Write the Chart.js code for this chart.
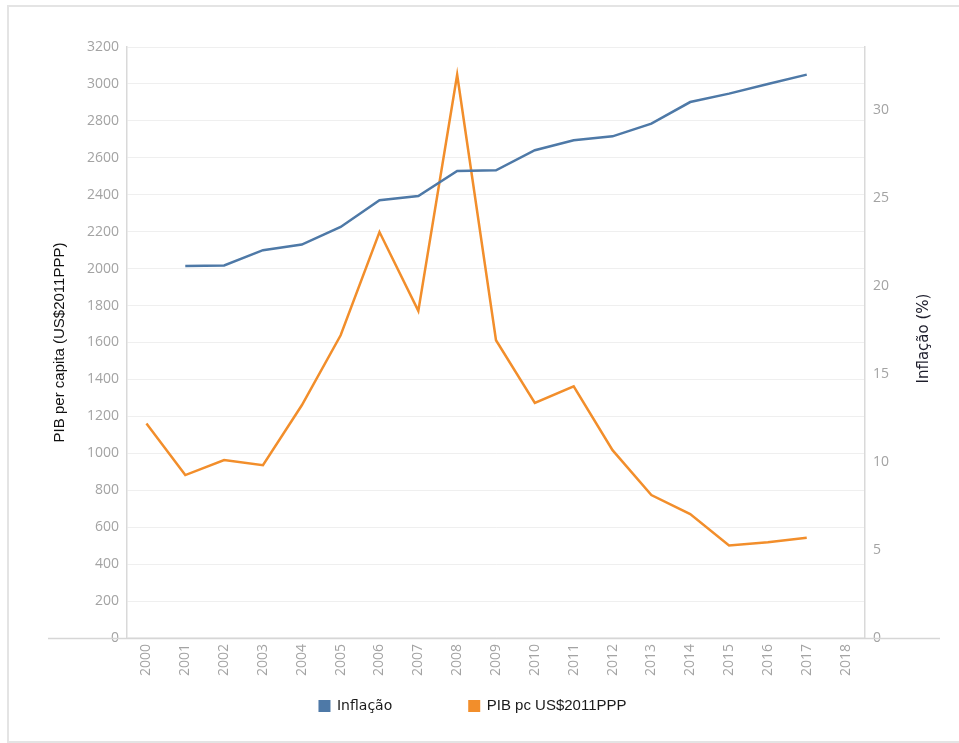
<!DOCTYPE html>
<html>
<head>
<meta charset="utf-8">
<script src="https://cdn.jsdelivr.net/npm/chart.js@4.4.1/dist/chart.umd.min.js"></script>
<style>
    body { margin: 0; background: #fff; overflow: hidden; }
    #moldura { position: absolute; left: 7px; top: 5px; width: 1000px; height: 734px; border: 2px solid #e4e4e4; border-right: none; }
    #grafico { position: absolute; left: 0; top: 0; }
</style>
</head>
<body>
<div id="moldura"></div>
<canvas id="grafico" width="959" height="743"></canvas>
<script>
// datos
var anos = ['2000', '2001', '2002', '2003', '2004', '2005', '2006', '2007', '2008', '2009',
    '2010', '2011', '2012', '2013', '2014', '2015', '2016', '2017', '2018'];
var valoresInflacao = [null, 21.15, 21.18, 22.05, 22.37, 23.37, 24.89, 25.13, 26.55, 26.59,
    27.73, 28.3, 28.52, 29.24, 30.47, 30.95, 31.5, 32.03, null];
var valoresPib = [1162, 882, 963, 936, 1260, 1639, 2198, 1771, 3050, 1612,
    1273, 1363, 1017, 774, 671, 501, 518, 543, null];
var tituloIzq = 'PIB per capita (US$2011PPP)';
var tituloDer = 'Inflação (%)';

var colorGris = '#a3a3a3';
var fuentesLeyenda = ['14px "DejaVu Sans"', '15px "Liberation Sans"'];

// titulo derecho (se lee de abajo hacia arriba), leyenda y linea base larga
var extras = {
    id: 'extras',
    afterDraw: function (chart) {
        var ctx = chart.ctx;
        var area = chart.chartArea;

        // linea base del eje x, mas larga que el area
        ctx.save();
        ctx.strokeStyle = '#d6d6d6';
        ctx.lineWidth = 1.5;
        ctx.beginPath();
        ctx.moveTo(48, area.bottom + 0.5);
        ctx.lineTo(chart.width - 19, area.bottom + 0.5);
        ctx.stroke();
        ctx.restore();

        // titulo del eje derecho
        ctx.save();
        ctx.translate(924, (area.top + area.bottom) / 2 - 4);
        ctx.rotate(-Math.PI / 2);
        ctx.font = '15px "DejaVu Sans"';
        ctx.fillStyle = '#1c1c2a';
        ctx.textAlign = 'center';
        ctx.textBaseline = 'middle';
        ctx.fillText(tituloDer, 0, 0);
        ctx.restore();

        // leyenda
        var items = chart.data.datasets.map(function (ds, i) {
            ctx.font = fuentesLeyenda[i];
            return {texto: ds.label, color: ds.borderColor, fuente: fuentesLeyenda[i], ancho: ctx.measureText(ds.label).width};
        });
        var caja = 12, sep = 6.5, hueco = 76;
        var total = 0;
        items.forEach(function (it, i) {
            total += caja + sep + it.ancho + (i > 0 ? hueco : 0);
        });
        var x = (chart.width - total) / 2 - 7;
        var y = chart.scales.x.bottom + 24;
        ctx.save();
        items.forEach(function (it) {
            ctx.fillStyle = it.color;
            ctx.fillRect(x, y - caja / 2, caja, caja);
            ctx.font = it.fuente;
            ctx.fillStyle = '#1a1a1a';
            ctx.textAlign = 'left';
            ctx.textBaseline = 'middle';
            ctx.fillText(it.texto, x + caja + sep, y);
            x += caja + sep + it.ancho + hueco;
        });
        ctx.restore();
    }
};

var ctx = document.getElementById('grafico').getContext('2d');
new Chart(ctx, {
    type: 'line',
    data: {
        labels: anos,
        datasets: [{
                label: 'Inflação',
                data: valoresInflacao,
                yAxisID: 'y1',
                borderColor: '#4e79a7',
                backgroundColor: '#4e79a7',
                borderWidth: 2.5,
                pointRadius: 0,
                tension: 0,
                fill: false
            }, {
                label: 'PIB pc US$2011PPP',
                data: valoresPib,
                yAxisID: 'y',
                borderColor: '#f28e2b',
                backgroundColor: '#f28e2b',
                borderWidth: 2.5,
                pointRadius: 0,
                tension: 0,
                fill: false
            }]
    },
    options: {
        responsive: false,
        animation: false,
        layout: {
            padding: {top: 47, left: 47, right: 62, bottom: 61}
        },
        plugins: {
            legend: {display: false},
            tooltip: {enabled: false}
        },
        scales: {
            x: {
                offset: true,
                grid: {display: false, drawTicks: false},
                border: {display: false},
                ticks: {
                    color: colorGris,
                    font: {family: 'Open Sans', size: 14},
                    minRotation: 90,
                    maxRotation: 90,
                    padding: 6,
                    autoSkip: false
                }
            },
            y: {
                position: 'left',
                min: 0,
                max: 3200,
                grid: {color: '#efefef', drawTicks: false},
                border: {color: '#d9d9d9', width: 1.5},
                ticks: {
                    stepSize: 200,
                    color: colorGris,
                    font: {family: 'Open Sans', size: 14},
                    padding: 8,
                    callback: function (value) {
                        return String(value);
                    }
                },
                title: {
                    display: true,
                    text: tituloIzq,
                    color: '#111',
                    font: {family: 'Liberation Sans', size: 15},
                    padding: {top: 4, bottom: 10}
                }
            },
            y1: {
                position: 'right',
                min: 0,
                max: 33.6,
                grid: {display: false, drawTicks: false},
                border: {color: '#d9d9d9', width: 1.5},
                ticks: {
                    stepSize: 5,
                    color: colorGris,
                    font: {family: 'Open Sans', size: 14},
                    padding: 8,
                    callback: function (value) {
                        return value % 5 === 0 ? String(value) : '';
                    }
                }
            }
        }
    },
    plugins: [extras]
});
</script>
</body>
</html>
